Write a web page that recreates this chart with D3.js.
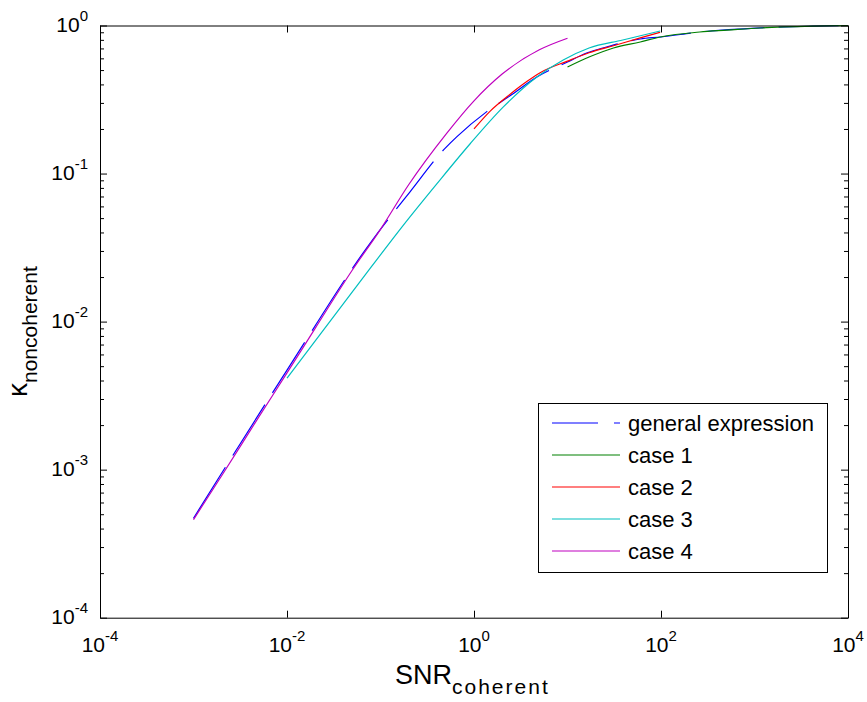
<!DOCTYPE html>
<html>
<head>
<meta charset="utf-8">
<script src="https://cdn.jsdelivr.net/npm/d3@7"></script>
<style>
  body { margin: 0; background: #fff; }
  text { font-family: "Liberation Sans", Arial, Helvetica, sans-serif; fill: #000; }
</style>
</head>
<body>
<svg id="chart" width="867" height="702"></svg>
<script>
// ---- data (SNR_coherent vs kappa_noncoherent) ----
const snrGeneral = [1e-3, 1e-2, 0.0773, 0.207, 0.49, 0.653, 1.37, 2.43, 4.7, 10, 16, 26, 60, 100, 260, 1150, 4200, 1e4];
const kGeneral   = [4.7e-4, 4.7e-3, 0.0338, 0.0753, 0.148, 0.177, 0.262, 0.335, 0.449, 0.567, 0.652, 0.716, 0.811, 0.836, 0.904, 0.965, 0.99, 1.0];

const snrCase1 = [10, 17, 31, 60, 98, 260, 510, 1150, 4200, 1e4];
const kCase1   = [0.524, 0.612, 0.705, 0.774, 0.836, 0.904, 0.93, 0.962, 0.99, 1.0];

const snrCase2 = [1, 1.5, 2.25, 3.7, 5.1, 10, 17, 31, 60, 98];
const kCase2   = [0.2, 0.265, 0.33, 0.42, 0.48, 0.575, 0.655, 0.73, 0.825, 0.9];

const snrCase3 = [0.01, 0.08, 0.175, 0.4, 0.91, 2.06, 4.7, 9, 17, 39, 98];
const kCase3   = [4.15e-3, 0.0235, 0.0447, 0.0852, 0.159, 0.282, 0.449, 0.585, 0.705, 0.798, 0.918];

const snrCase4 = [1e-3, 2e-3, 5e-3, 1e-2, 2e-2, 5e-2, 0.1, 0.2, 0.5, 1, 2, 5, 10];
const kCase4   = [4.6e-4, 9.1e-4, 2.27e-3, 4.5e-3, 9.0e-3, 0.0223, 0.042, 0.084, 0.184, 0.31, 0.47, 0.685, 0.82];

const seriesNames = ['general expression', 'case 1', 'case 2', 'case 3', 'case 4'];
const seriesColors = ['#0000ff', '#008000', '#ff0000', '#00bfbf', '#bf00bf'];

const xTicks = [1e-4, 1e-2, 1, 1e2, 1e4];
const xTickExp = ['-4', '-2', '0', '2', '4'];
const yTicks = [1e-4, 1e-3, 1e-2, 1e-1, 1];
const yTickExp = ['-4', '-3', '-2', '-1', '0'];

// ---- layout ----
const box = { left: 100, top: 25.5, right: 848, bottom: 617.7 };

const x = d3.scaleLog().domain([1e-4, 1e4]).range([box.left, box.right]);
const y = d3.scaleLog().domain([1e-4, 1]).range([box.bottom, box.top]);

const svg = d3.select('#chart');
svg.append('rect').attr('width', 867).attr('height', 702).attr('fill', '#fff');

// ---- curves ----
const series = [
  { snr: snrGeneral, k: kGeneral, dash: '60,14' },
  { snr: snrCase1, k: kCase1 },
  { snr: snrCase2, k: kCase2 },
  { snr: snrCase3, k: kCase3 },
  { snr: snrCase4, k: kCase4 },
];

const line = d3.line()
  .x(d => x(d[0]))
  .y(d => y(d[1]))
  .curve(d3.curveMonotoneX);

series.forEach((s, i) => {
  svg.append('path')
    .datum(d3.zip(s.snr, s.k))
    .attr('d', line)
    .attr('fill', 'none')
    .attr('stroke', seriesColors[i])
    .attr('stroke-width', 1.2)
    .attr('stroke-dasharray', s.dash || null);
});

// ---- axes box with inward ticks ----
const yMinor = [];
for (let d = -4; d < 0; d++) for (let m = 2; m <= 9; m++) yMinor.push(m * Math.pow(10, d));

function styleAxis(g) {
  g.selectAll('path, line').attr('stroke', '#000').attr('stroke-width', 1);
  g.selectAll('text').remove();
}

svg.append('g').attr('transform', `translate(0,${box.bottom})`)
  .call(d3.axisBottom(x).tickValues(xTicks).tickSize(-7).tickSizeOuter(0).tickFormat('')).call(styleAxis);
svg.append('g').attr('transform', `translate(0,${box.top})`)
  .call(d3.axisTop(x).tickValues(xTicks).tickSize(-7).tickSizeOuter(0).tickFormat('')).call(styleAxis);
svg.append('g').attr('transform', `translate(${box.left},0)`)
  .call(d3.axisLeft(y).tickValues(yTicks).tickSize(-7).tickSizeOuter(0).tickFormat('')).call(styleAxis);
svg.append('g').attr('transform', `translate(${box.right},0)`)
  .call(d3.axisRight(y).tickValues(yTicks).tickSize(-7).tickSizeOuter(0).tickFormat('')).call(styleAxis);

// minor y ticks
svg.append('g').attr('transform', `translate(${box.left},0)`)
  .call(d3.axisLeft(y).tickValues(yMinor).tickSize(-4).tickFormat('')).call(styleAxis)
  .select('.domain').remove();
svg.append('g').attr('transform', `translate(${box.right},0)`)
  .call(d3.axisRight(y).tickValues(yMinor).tickSize(-4).tickFormat('')).call(styleAxis)
  .select('.domain').remove();

// ---- tick labels (10 with superscript exponent) ----
xTicks.forEach((v, i) => {
  const t = svg.append('text')
    .attr('x', x(v)).attr('y', box.bottom + 34)
    .attr('text-anchor', 'middle')
    .attr('font-size', 21);
  t.append('tspan').text('10');
  t.append('tspan').attr('dy', -11).attr('font-size', 15).text(xTickExp[i]);
});

yTicks.forEach((v, i) => {
  const t = svg.append('text')
    .attr('x', 88).attr('y', y(v) + 6.5)
    .attr('text-anchor', 'end')
    .attr('font-size', 21);
  t.append('tspan').text('10');
  t.append('tspan').attr('dy', -11.5).attr('font-size', 15).text(yTickExp[i]);
});

// ---- axis titles ----
const xTitle = svg.append('text').attr('x', 395).attr('y', 684).attr('font-size', 27);
xTitle.append('tspan').text('SNR');
xTitle.append('tspan').attr('dy', 10).attr('font-size', 21).attr('letter-spacing', 2).text('coherent');

const yTitle = svg.append('text')
  .attr('transform', 'translate(27,397) rotate(-90)')
  .attr('font-size', 28);
yTitle.append('tspan').text('κ');
yTitle.append('tspan').attr('dy', 10).attr('font-size', 21).text('noncoherent');

// ---- legend ----
const legendRows = [423, 455, 487, 519, 551];
const legend = svg.append('g');
legend.append('rect')
  .attr('x', 538.5).attr('y', 403.5).attr('width', 289).attr('height', 169)
  .attr('fill', '#fff').attr('stroke', '#000').attr('stroke-width', 1);

seriesNames.forEach((name, i) => {
  const ly = legendRows[i];
  legend.append('line')
    .attr('x1', 552).attr('x2', 620).attr('y1', ly).attr('y2', ly)
    .attr('stroke', seriesColors[i]).attr('stroke-width', 1.2)
    .attr('stroke-dasharray', i === 0 ? '46,16' : null);
  legend.append('text')
    .attr('x', 628).attr('y', ly + 8)
    .attr('font-size', 22)
    .text(name);
});
</script>
</body>
</html>
